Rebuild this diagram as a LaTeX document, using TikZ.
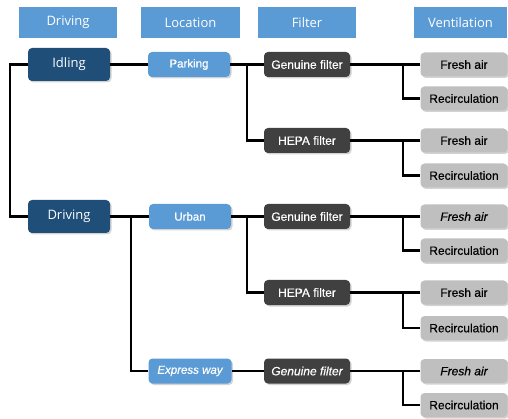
\documentclass[tikz,border=0pt]{standalone}
\usepackage{fontspec}
\setmainfont{Liberation Sans}
\newfontfamily\hdrfont{Open Sans}
\newfontfamily\boxfont[FakeBold=0.5]{Liberation Sans}
\usetikzlibrary{shadows,calc}
\definecolor{hdrblue}{HTML}{5B9BD5}
\definecolor{darkblue}{HTML}{1F4E79}
\definecolor{darkgray}{HTML}{404040}
\definecolor{lightgray}{HTML}{BFBFBF}
\begin{document}
\begin{tikzpicture}[x=1pt,y=-1pt,
  hdr/.style={fill=hdrblue,draw=none,text=white,minimum height=31pt,inner sep=0pt,font=\hdrfont\fontsize{13}{15}\selectfont},
  boxbase/.style={rounded corners=4pt,draw=none,inner sep=0pt,drop shadow={shadow xshift=1.5pt,shadow yshift=-1.5pt,opacity=0.35}},
  lvl1/.style={boxbase,fill=darkblue,text=white,minimum width=82pt,minimum height=33pt,font=\hdrfont\fontsize{13}{15}\selectfont},
  lvl2/.style={boxbase,fill=hdrblue,text=white,minimum width=82pt,minimum height=25pt,font=\boxfont\fontsize{11.5}{13}\selectfont},
  lvl3/.style={boxbase,fill=darkgray,text=white,minimum width=86pt,minimum height=25pt,font=\boxfont\fontsize{12}{14}\selectfont},
  lvl4/.style={boxbase,fill=lightgray,text=black,minimum width=87pt,minimum height=24pt,font=\boxfont\fontsize{12}{14}\selectfont},
  conn/.style={line width=2.6pt,black}]
\useasboundingbox (0,0) rectangle (508,419);
% headers
\node[hdr,minimum width=98pt] (h1) at (68,22.5) {Driving};
\node[hdr,minimum width=99pt] (h2) at (190.5,22.5) {Location};
\node[hdr,minimum width=98pt] (h3) at (307,22.5) {Filter};
\node[hdr,minimum width=93pt] (h4) at (460.5,22.5) {Ventilation};
% coordinates for branch points
\coordinate (l0a) at (10,64.5);
\coordinate (l0b) at (10,216.5);
\coordinate (b1) at (247,64.5);
\coordinate (b1d) at (247,140.5);
\coordinate (b2) at (131,216.5);
\coordinate (b2d) at (131,371);
\coordinate (b3) at (247,216.5);
\coordinate (b3d) at (247,292.5);
% level 1
\node[lvl1] (idl) at (69,64.5) {Idling};
\node[lvl1] (drv) at (69,216.5) {Driving};
% level 2
\node[lvl2] (park) at (189,64.5) {Parking};
\node[lvl2] (urb) at (190,216.5) {Urban};
\node[lvl2,minimum width=83pt] (exw) at (190,371) {\itshape Express way};
% level 3
\node[lvl3] (g1) at (307,64.5) {Genuine filter};
\node[lvl3] (p1) at (307,140.5) {HEPA filter};
\node[lvl3] (g2) at (307,216.5) {Genuine filter};
\node[lvl3] (p2) at (307,292.5) {HEPA filter};
\node[lvl3] (g3) at (307,371) {\itshape Genuine filter};
% level 4
\foreach \n/\y/\r/\st in {1/64.5/98.5/\upshape,2/140.5/175.5/\upshape,3/216.5/250.5/\itshape,4/292.5/328/\upshape,5/371/405/\itshape}{
  \node[lvl4] (f\n) at (464,\y) {\st Fresh air};
  \node[lvl4] (r\n) at (464,\r) {Recirculation};
  \coordinate (s\n) at (403,\y);
}
% connectors
\draw[conn] (idl.west) -- (l0a) -- (l0b) -- (drv.west);
\draw[conn] (idl.east) -- (park.west);
\draw[conn] (drv.east) -- (urb.west);
\draw[conn] (b2) -- (b2d) -- (exw.west);
\draw[conn] (park.east) -- (g1.west);
\draw[conn] (b1) -- (b1d) -- (p1.west);
\draw[conn] (urb.east) -- (g2.west);
\draw[conn] (b3) -- (b3d) -- (p2.west);
\draw[conn] (exw.east) -- (g3.west);
\draw[conn] (g1.east) -- (f1.west);
\draw[conn] (p1.east) -- (f2.west);
\draw[conn] (g2.east) -- (f3.west);
\draw[conn] (p2.east) -- (f4.west);
\draw[conn] (g3.east) -- (f5.west);
\foreach \n in {1,2,3,4,5}{
  \draw[conn] (s\n) |- (r\n.west);
}
\end{tikzpicture}
\end{document}
